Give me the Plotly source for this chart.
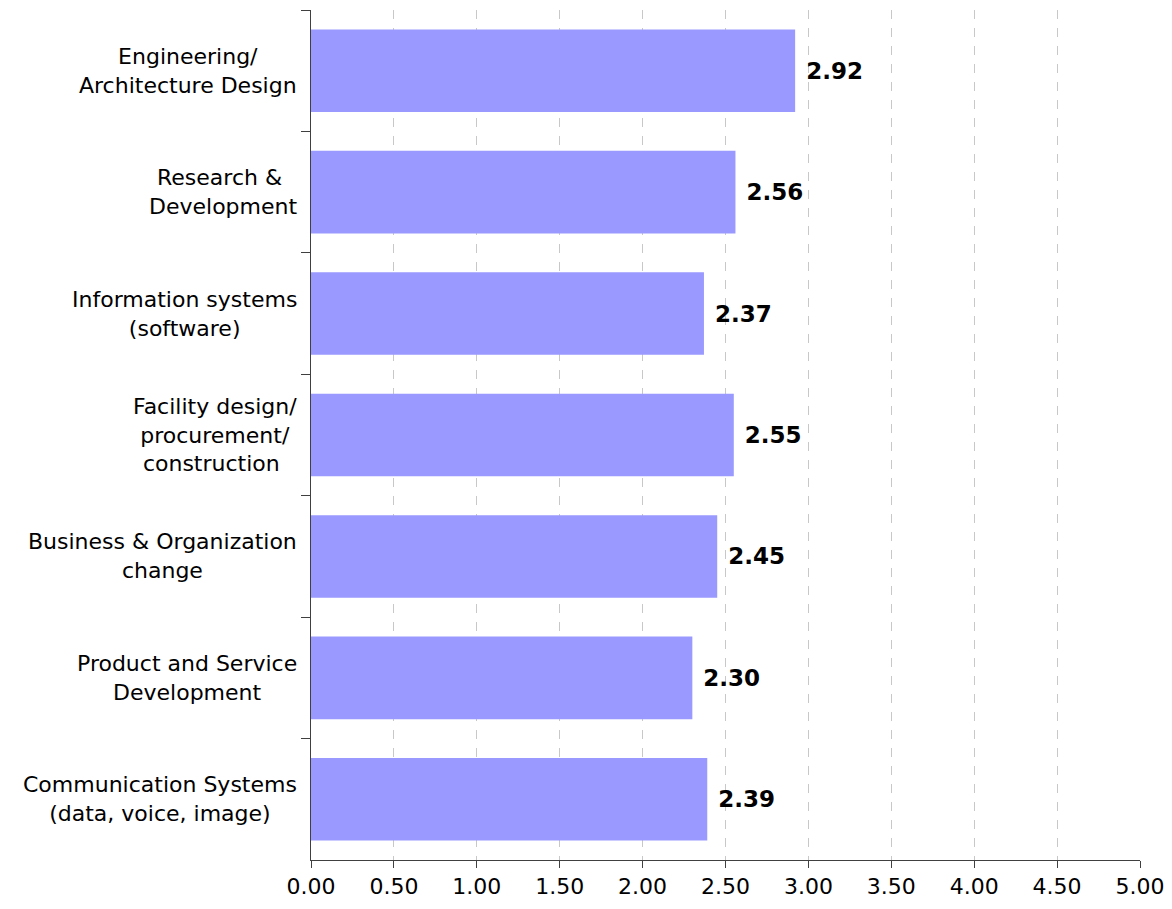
import plotly.graph_objects as go

categories = [
    "Engineering/<br>Architecture Design",
    "Research & <br>Development",
    "Information systems<br>(software)",
    "Facility design/<br>procurement/<br>construction ",
    "Business & Organization<br>change",
    "Product and Service<br>Development",
    "Communication Systems<br>(data, voice, image)",
]
values = [2.92, 2.56, 2.37, 2.55, 2.45, 2.30, 2.39]
x_ticks = [0, 0.5, 1, 1.5, 2, 2.5, 3, 3.5, 4, 4.5, 5]
x_tick_labels = ["%.2f" % v for v in x_ticks]

FONT = "DejaVu Sans, Verdana, sans-serif"

fig = go.Figure()
fig.add_trace(go.Bar(
    y=categories,
    x=values,
    orientation="h",
    marker=dict(color="#9999FF", line=dict(width=0)),
    texttemplate="\u00a0%{x:.2f}",
    textposition="outside",
    textfont=dict(family=FONT, size=23, color="black", weight="bold"),
    cliponaxis=False,
))

for cat in categories:
    fig.add_annotation(
        x=0, xref="paper", y=cat, yref="y",
        text=cat, showarrow=False,
        xanchor="right", yanchor="middle", align="center",
        xshift=-12,
        font=dict(family=FONT, size=22, color="black"),
    )

fig.update_layout(
    width=1164, height=901,
    margin=dict(l=303, r=32, t=2, b=49, autoexpand=False),
    paper_bgcolor="white", plot_bgcolor="white",
    bargap=0.32,
    showlegend=False,
    font=dict(family=FONT, size=22, color="black"),
)
fig.update_xaxes(
    range=[0, 5],
    tickvals=x_ticks, ticktext=x_tick_labels,
    showgrid=True, gridcolor="#C8C8C8", griddash="dash", gridwidth=1,
    zeroline=False,
    showline=True, linecolor="#404040", linewidth=1,
    ticks="outside", ticklen=7, tickcolor="#404040",
    tickfont=dict(family=FONT, size=22, color="black"),
)
fig.update_yaxes(
    autorange="reversed",
    showticklabels=False,
    showgrid=False, zeroline=False,
    showline=True, linecolor="#404040", linewidth=1,
    ticks="outside", ticklen=9, tickcolor="#404040",
    tickson="boundaries",
)

fig.write_html("out.html")
